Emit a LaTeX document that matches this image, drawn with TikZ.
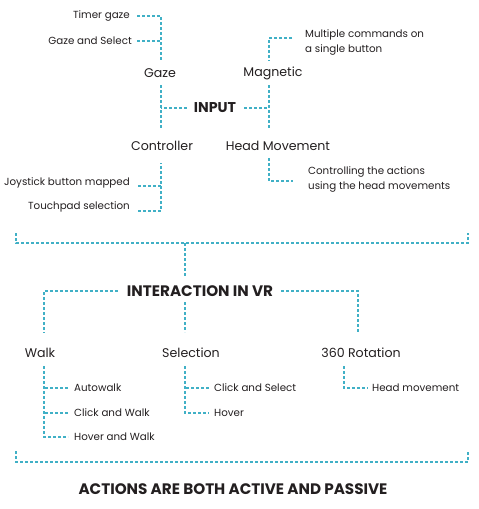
\documentclass[tikz,border=0pt]{standalone}
\usepackage{fontspec}
\setmainfont{Poppins}
\definecolor{lnk}{RGB}{64,176,198}
\definecolor{ink}{RGB}{35,31,32}
\begin{document}
\begin{tikzpicture}[x=1pt,y=-1pt,
  lk/.style={draw=lnk, line width=1.1pt, dash pattern=on 3pt off 2pt},
  lbl/.style={font=\fontsize{10.3}{15}\selectfont, text=ink, inner sep=0pt},
  hd/.style={font=\fontsize{12.6}{15}\selectfont, text=ink, inner sep=0pt},
  bighd/.style={font=\fontsize{15.2}{17}\selectfont\bfseries, text=ink, inner sep=0pt}]
\useasboundingbox (0,0) rectangle (479,509);
% ---- INPUT part
\node[lbl, anchor=east] (timer) at (130,16) {Timer gaze};
\node[lbl, anchor=east] (gazesel) at (132,41) {Gaze and Select};
\node[hd] (gaze) at (160,73) {Gaze};
\node[bighd, font=\fontsize{14.2}{16}\selectfont\bfseries] (input) at (215,108) {INPUT};
\node[hd] (magnetic) at (273,73) {Magnetic};
\node[lbl, anchor=west, align=left] (multi) at (305,42) {Multiple commands on\\a single button};
\node[hd] (controller) at (162,146) {Controller};
\node[hd] (headmov) at (278,146) {Head Movement};
\node[lbl, anchor=east] (joy) at (130,183) {Joystick button mapped};
\node[lbl, anchor=east] (touch) at (130,207) {Touchpad selection};
\node[lbl, anchor=west, align=left] (ctrl) at (308,179) {Controlling the actions\\using the head movements};
\coordinate (gtop) at (161,61);
\coordinate (gbot) at (161,128);
\coordinate (gmid) at (161,85);
\coordinate (mtop) at (269,61);
\coordinate (mmid) at (269,85);
\coordinate (mbot) at (269,128);
\coordinate (mcorner) at (292,38);
\coordinate (ctop) at (161,163);
\coordinate (hcorner) at (293,181);
\coordinate (htop) at (269,158);
\draw[lk] ([xshift=7pt]timer.east) -| (gtop);
\draw[lk] ([xshift=5pt]gazesel.east) -- (gazesel.east -| gtop);
\draw[lk] (gmid) -- (gbot);
\draw[lk] (mmid) -- (mbot);
\draw[lk] ([xshift=-7pt]input.west) -- (input.west -| gbot);
\draw[lk] ([xshift=8pt]input.east) -- (input.east -| mbot);
\draw[lk] (mcorner) -| (mtop);
\draw[lk] ([xshift=8pt,yshift=-3pt]joy.east) -- ([yshift=-3pt]joy.east -| ctop);
\draw[lk] ([xshift=8pt,yshift=-4pt]touch.east) -| (ctop);
\draw[lk] (htop) |- (hcorner);
% ---- bracket 1
\coordinate (b1l) at (16,233);
\coordinate (b1r) at (468,233);
\coordinate (b1m) at (185,243);
\coordinate (b1s) at (185,276);
\draw[lk] (b1l) -- ++(0,10) -- ([yshift=-10pt]b1r) -- (b1r);
\draw[lk] (b1m) -- (b1s);
% ---- INTERACTION part
\node[bighd] (inter) at (200,291) {INTERACTION IN VR};
\node[hd] (walk) at (40,353) {Walk};
\node[hd] (sel) at (191,353) {Selection};
\node[hd] (rot) at (361,353) {360 Rotation};
\coordinate (wtop) at (44,333);
\coordinate (stop) at (185,332);
\coordinate (smid) at (185,302);
\coordinate (rtop) at (358,333);
\draw[lk] ([xshift=-9pt]inter.west) -| (wtop);
\draw[lk] ([xshift=8pt]inter.east) -| (rtop);
\draw[lk] (smid) -- (stop);
\node[lbl, anchor=west] (auto) at (74,388) {Autowalk};
\node[lbl, anchor=west] (cw) at (74,413) {Click and Walk};
\node[lbl, anchor=west] (hw) at (74,437) {Hover and Walk};
\node[lbl, anchor=west] (cs) at (214,388) {Click and Select};
\node[lbl, anchor=west] (hov) at (214,413) {Hover};
\node[lbl, anchor=west] (hm) at (372,388) {Head movement};
\coordinate (wsub) at (44,366);
\coordinate (ssub) at (185,366);
\coordinate (rsub) at (344,366);
\draw[lk] (wsub) |- ([xshift=-6pt]hw.west);
\draw[lk] ([xshift=-6pt]auto.west) -- (auto.west -| wsub);
\draw[lk] ([xshift=-6pt]cw.west) -- (cw.west -| wsub);
\draw[lk] (ssub) |- ([xshift=-5pt]hov.west);
\draw[lk] ([xshift=-5pt]cs.west) -- (cs.west -| ssub);
\draw[lk] (rsub) |- ([xshift=-4pt]hm.west);
% ---- bracket 2
\coordinate (b2l) at (16,451);
\coordinate (b2r) at (468,451);
\draw[lk] (b2l) -- ++(0,11) -- ([yshift=-11pt]b2r) -- (b2r);
\node[bighd] (actions) at (233,489) {ACTIONS ARE BOTH ACTIVE AND PASSIVE};
\end{tikzpicture}
\end{document}
